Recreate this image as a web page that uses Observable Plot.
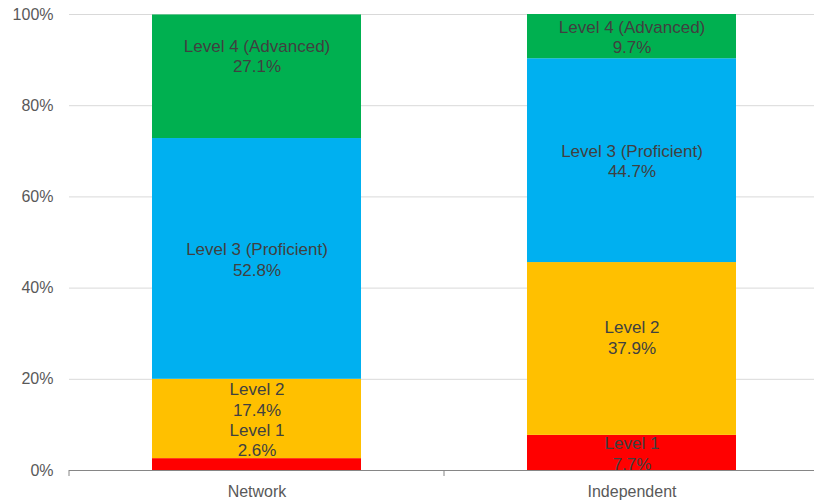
<!DOCTYPE html>
<html>
<head>
<meta charset="utf-8">
<script src="https://cdn.jsdelivr.net/npm/d3@7"></script>
<script src="https://cdn.jsdelivr.net/npm/@observablehq/plot@0.6"></script>
<style>
  html, body { margin: 0; padding: 0; background: #fff; overflow: hidden; }
  #chart svg { display: block; }
</style>
</head>
<body>
<div id="chart"></div>
<script>
// ---- data ----
const categories = ["Network", "Independent"];
const levels = ["Level 1", "Level 2", "Level 3 (Proficient)", "Level 4 (Advanced)"];
const networkValues = [2.6, 17.4, 52.8, 27.1];
const independentValues = [7.7, 37.9, 44.7, 9.7];
const yTickValues = [0, 20, 40, 60, 80, 100];

// ---- styling ----
const levelColors = ["#FF0000", "#FFC000", "#00B0F0", "#00B050"];
const font = "'Liberation Sans', Arial, sans-serif";
// manual label nudges (px) mimicking the reference's label placement
const labelNudge = {
  "Network|Level 1": -25,
  "Network|Level 2": -20,
  "Network|Level 4 (Advanced)": -21,
  "Independent|Level 2": -12
};

const seriesByCategory = {Network: networkValues, Independent: independentValues};
const rows = [];
for (const cat of categories) {
  let base = 0;
  seriesByCategory[cat].forEach((v, i) => {
    rows.push({category: cat, level: levels[i], value: v, y0: base, y1: base + v, mid: base + v / 2});
    base += v;
  });
}

const labelMarks = rows.map(r => Plot.text([r], {
  x: "category",
  y: "mid",
  text: d => `${d.level}\n${d.value.toFixed(1)}%`,
  fill: "#404040",
  fontSize: 17,
  lineHeight: 1.2,
  fontFamily: font,
  dy: labelNudge[`${r.category}|${r.level}`] || 0
}));

const boundaryTicks = (index, scales, values, dims) => {
  const g = d3.create("svg:g");
  const x = scales.x;
  const bw = x.bandwidth();
  const c0 = x(categories[0]) + bw / 2, c1 = x(categories[1]) + bw / 2;
  const xs = [dims.marginLeft, (c0 + c1) / 2, dims.width - dims.marginRight - 1];
  const y0 = scales.y(0);
  for (const xv of xs) {
    g.append("line").attr("x1", xv).attr("x2", xv).attr("y1", y0).attr("y2", y0 + 6)
      .attr("stroke", "#868686").attr("stroke-width", 1);
  }
  return g.node();
};

const chart = Plot.plot({
  width: 814,
  height: 504,
  marginLeft: 69,
  marginRight: -5,
  marginTop: 14,
  marginBottom: 34,
  style: {fontFamily: font, background: "#fff"},
  x: {domain: categories, paddingInner: 0.444, paddingOuter: 0.222, axis: null},
  y: {domain: [0, 100], axis: null},
  color: {domain: levels, range: levelColors},
  marks: [
    Plot.gridY(yTickValues, {stroke: "#D9D9D9", strokeOpacity: 1, strokeWidth: 1}),
    Plot.barY(rows, {x: "category", y1: "y0", y2: "y1", fill: "level"}),
    ...labelMarks,
    Plot.ruleY([0], {stroke: "#868686", strokeWidth: 1}),
    boundaryTicks,
    Plot.axisY(yTickValues, {tickSize: 0, tickPadding: 16, tickFormat: d => d + "%", fontSize: 16, fill: "#595959", fontFamily: font, label: null}),
    Plot.axisX(categories, {tickSize: 0, tickPadding: 15, fontSize: 16, fill: "#595959", fontFamily: font, label: null})
  ]
});
document.getElementById("chart").appendChild(chart);
</script>
</body>
</html>
